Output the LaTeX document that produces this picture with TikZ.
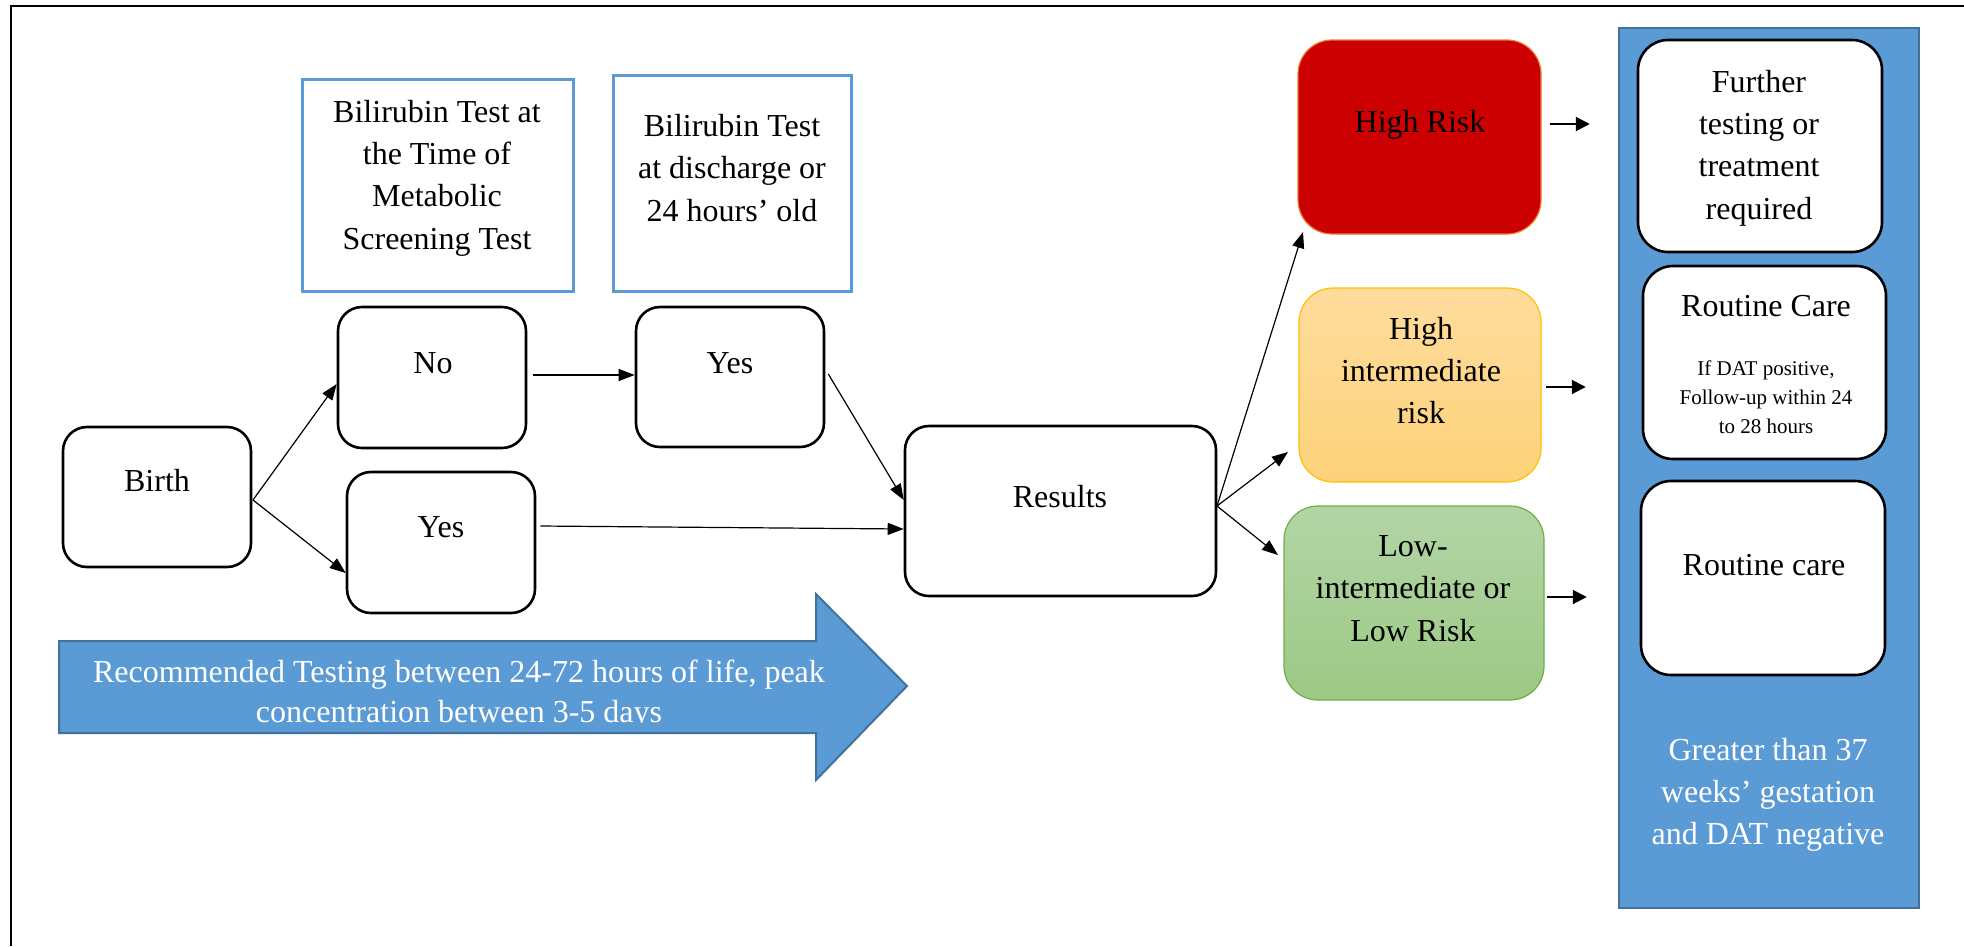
\documentclass[tikz,border=0pt]{standalone}
\usepackage{fontspec}
\setmainfont{Liberation Serif}
\usetikzlibrary{arrows.meta}
\definecolor{boxblue}{HTML}{5B9BD5}
\definecolor{darkblue}{HTML}{41719C}
\definecolor{riskred}{HTML}{CC0000}
\definecolor{redline}{HTML}{ED7D31}
\definecolor{goldtop}{HTML}{FEDC9C}
\definecolor{goldbot}{HTML}{FDD27A}
\definecolor{goldline}{HTML}{FFC000}
\definecolor{greentop}{HTML}{B3D5A5}
\definecolor{greenbot}{HTML}{9CC985}
\definecolor{greenline}{HTML}{70AD47}
\begin{document}
\begin{tikzpicture}[x=1pt,y=-1pt,
  blackbox/.style={draw=black, line width=2.6pt, rounded corners=24pt, fill=white, inner sep=0pt},
  testbox/.style={draw=boxblue, line width=3pt, fill=white, inner sep=0pt},
  riskbox/.style={rounded corners=34pt, line width=1.2pt, inner sep=0pt},
  txt/.style={font=\fontsize{32}{42.3}\selectfont, align=center, inner sep=0pt},
  smalltxt/.style={font=\fontsize{21}{29}\selectfont, align=center, inner sep=0pt},
  conn/.style={-{Triangle[length=16pt,width=12pt]}, line width=1.2pt},
  shortarrow/.style={-{Triangle[length=14pt,width=14pt]}, line width=2pt}
]
\useasboundingbox (0,0) rectangle (1964,946);
% outer frame
\draw[line width=2.5pt] (11,946) -- (11,6) -- (1964,6);

% right panel
\node[draw=darkblue, line width=2.5pt, fill=boxblue, minimum width=300pt, minimum height=880pt, inner sep=0pt] (panel) at (1769,468) {};

% black rounded boxes
\node[blackbox, minimum width=188pt, minimum height=140pt] (birth) at (157,497) {};
\node[blackbox, minimum width=188pt, minimum height=141pt] (no) at (432,377.5) {};
\node[blackbox, minimum width=188pt, minimum height=141pt] (yesL) at (441,542.5) {};
\node[blackbox, minimum width=188pt, minimum height=140pt] (yesU) at (730,377) {};
\node[blackbox, minimum width=311pt, minimum height=170pt] (results) at (1060.5,511) {};
\node[blackbox, rounded corners=30pt, minimum width=244pt, minimum height=212pt] (further) at (1760,146) {};
\node[blackbox, rounded corners=30pt, minimum width=243pt, minimum height=193pt] (rc1) at (1764.5,362.5) {};
\node[blackbox, rounded corners=30pt, minimum width=244pt, minimum height=194pt] (rc2) at (1763,578) {};

% test boxes
\node[testbox, minimum width=271pt, minimum height=212pt] (bil1) at (437.5,185) {};
\node[testbox, minimum width=238pt, minimum height=216pt] (bil2) at (732,183) {};

% risk boxes
\node[riskbox, draw=redline, fill=riskred, minimum width=243pt, minimum height=194pt] (high) at (1419.5,137) {};
\node[riskbox, draw=goldline, top color=goldtop, bottom color=goldbot, minimum width=242pt, minimum height=194pt] (hint) at (1420,385) {};
\node[riskbox, draw=greenline, top color=greentop, bottom color=greenbot, minimum width=260pt, minimum height=194pt] (low) at (1414,603) {};

% texts
\node[txt] (birthT) at (157,481) {Birth};
\node[txt] (noT) at (433,363) {No};
\node[txt] (yesUT) at (730,363) {Yes};
\node[txt] (yesLT) at (441,527) {Yes};
\node[txt] (resultsT) at (1060,497) {Results};
\node[txt] (bil1T) at (437,178) {Bilirubin Test at\\the Time of\\Metabolic\\Screening Test};
\node[txt] (bil2T) at (732,168) {Bilirubin Test\\at discharge or\\24 hours’ old};
\node[txt] (highT) at (1420,125) {High Risk};
\node[txt] (hintT) at (1421,370.5) {High\\intermediate\\risk};
\node[txt] (lowT) at (1413,588.5) {Low-\\intermediate or\\Low Risk};
\node[txt] (furtherT) at (1759,148) {Further\\testing or\\treatment\\required};
\node[txt] (rc1T) at (1766,306.5) {Routine Care};
\node[smalltxt] (rc1S) at (1766,397) {If DAT positive,\\Follow-up within 24\\to 28 hours};
\node[txt] (rc2T) at (1764,565) {Routine care};
\node[txt, text=white] (panelT) at (1768,795) {Greater than 37\\weeks’ gestation\\and DAT negative};

% big arrow
\draw[fill=boxblue, draw=darkblue, line width=2pt]
  (59,641) -- (816,641) -- (816,594) -- (907,686) -- (816,780) -- (816,733) -- (59,733) -- cycle;
\begin{scope}
  \clip (59,594) rectangle (907,722.5);
  \node[txt, text=white, anchor=base] (arrowT1) at (459,682) {Recommended Testing between 24-72 hours of life, peak};
  \node[txt, text=white, anchor=base] (arrowT2) at (459,722) {concentration between 3-5 days};
\end{scope}

% connectors
\coordinate (bsrc) at (253,500);
\coordinate (rsrc) at (1217,506);
\draw[conn] (bsrc) -- (no.west |- 0,384);
\draw[conn] (bsrc) -- (yesL.west |- 0,573);
\draw[conn] (no.east |- 0,375) ++(6,0) -- (yesU.west |- 0,375);
\draw[conn] (yesU.east |- 0,374) ++(3,0) -- (results.west |- 0,500);
\draw[conn] (yesL.east |- 0,526) ++(4,0) -- (results.west |- 0,529);
\draw[conn] (rsrc) -- (1303,232);
\draw[conn] (rsrc) -- (1288,452);
\draw[conn] (rsrc) -- (1278,555);

% short arrows
\coordinate (a1) at (1550,124);
\coordinate (a2) at (1546,387);
\coordinate (a3) at (1547,597);
\draw[shortarrow] (a1) -- ([xshift=-28pt]panel.west |- a1);
\draw[shortarrow] (a2) -- ([xshift=-32pt]panel.west |- a2);
\draw[shortarrow] (a3) -- ([xshift=-31pt]panel.west |- a3);
\end{tikzpicture}
\end{document}
